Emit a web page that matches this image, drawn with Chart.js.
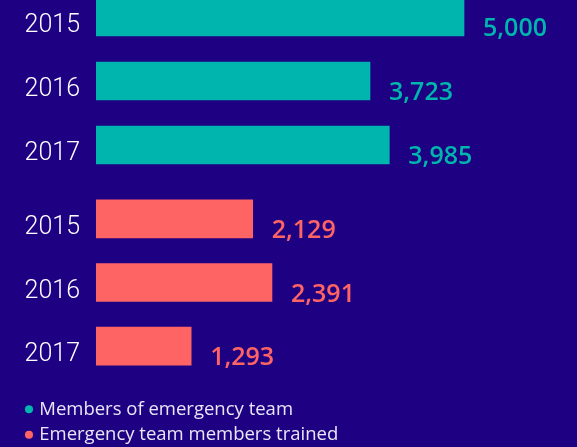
<!DOCTYPE html>
<html>
<head>
<meta charset="utf-8">
<script src="https://cdn.jsdelivr.net/npm/chart.js@4"></script>
<style>
  html, body { margin: 0; padding: 0; }
  body { width: 577px; height: 447px; overflow: hidden; position: relative; background: #1e0082; }
  .box { position: absolute; left: 0; width: 577px; }
  #topBox { top: -15px; height: 192px; }
  #bottomBox { top: 187px; height: 267px; }
</style>
</head>
<body>
<div class="box" id="topBox"><canvas id="teamChart"></canvas></div>
<div class="box" id="bottomBox"><canvas id="trainedChart"></canvas></div>
<script>
// Years shown on each group of bars
const years = ['2015', '2016', '2017'];

// Series names
const teamLabel = 'Members of emergency team';
const trainedLabel = 'Emergency team members trained';

// Values per year
const teamMembers = [5000, 3723, 3985];
const membersTrained = [2129, 2391, 1293];

const TEAL = '#00b5ad';
const CORAL = '#ff6464';
const TEXT = '#ffffff';
const LEGEND_TEXT = '#e9e6f7';

// Writes each bar's value just to the right of its end, sitting on the bar's bottom edge
const valueLabels = {
  id: 'valueLabels',
  afterDatasetsDraw(chart) {
    const ctx = chart.ctx;
    chart.data.datasets.forEach((ds, di) => {
      const meta = chart.getDatasetMeta(di);
      meta.data.forEach((bar, i) => {
        ctx.save();
        ctx.font = '600 25px "Open Sans"';
        ctx.fillStyle = ds.backgroundColor;
        ctx.textAlign = 'left';
        ctx.textBaseline = 'alphabetic';
        ctx.fillText(ds.data[i].toLocaleString('en-US'), bar.x + 19, bar.y + bar.height / 2);
        ctx.restore();
      });
    });
  }
};

function makeOptions(yWidth, padLeft, withLegend) {
  return {
    indexAxis: 'y',
    responsive: true,
    maintainAspectRatio: false,
    animation: false,
    layout: { padding: { left: padLeft, right: 39.4, top: 0, bottom: 0 } },
    scales: {
      x: {
        min: 0,
        max: 6000,
        display: withLegend,
        grid: { display: false },
        border: { display: false },
        ticks: { display: false },
        afterFit(scale) {
          // an empty strip that keeps the legend clear of the last bar
          scale.height = withLegend ? 15 : 0;
        }
      },
      y: {
        grid: { display: false, drawTicks: false },
        border: { display: false },
        ticks: {
          color: TEXT,
          font: { family: 'Roboto, sans-serif', size: 25, weight: '300' },
          padding: 16,
          labelOffset: 9
        },
        afterFit(scale) {
          // year labels sit beside the bars, so they need no room above or below the plot
          scale.width = yWidth;
          scale.paddingTop = 0;
          scale.paddingBottom = 0;
        }
      }
    },
    plugins: {
      tooltip: { enabled: false },
      legend: withLegend ? {
        display: true,
        position: 'bottom',
        align: 'start',
        labels: {
          usePointStyle: true,
          pointStyle: 'circle',
          boxWidth: 2,
          boxHeight: 5.7,
          padding: 7,
          color: LEGEND_TEXT,
          font: { family: '"Open Sans", sans-serif', size: 18.5 },
          generateLabels() {
            return [
              { text: teamLabel, fillStyle: TEAL, strokeStyle: TEAL, lineWidth: 0, pointStyle: 'circle', fontColor: LEGEND_TEXT },
              { text: trainedLabel, fillStyle: CORAL, strokeStyle: CORAL, lineWidth: 0, pointStyle: 'circle', fontColor: LEGEND_TEXT }
            ];
          }
        }
      } : { display: false }
    }
  };
}

function barDataset(label, values, color) {
  return {
    label: label,
    data: values,
    backgroundColor: color,
    borderWidth: 0,
    barThickness: 38
  };
}

new Chart(document.getElementById('teamChart'), {
  type: 'bar',
  data: { labels: years, datasets: [barDataset(teamLabel, teamMembers, TEAL)] },
  options: makeOptions(96, 0, false),
  plugins: [valueLabels]
});

new Chart(document.getElementById('trainedChart'), {
  type: 'bar',
  data: { labels: years, datasets: [barDataset(trainedLabel, membersTrained, CORAL)] },
  options: makeOptions(75, 21, true),
  plugins: [valueLabels]
});
</script>
</body>
</html>
